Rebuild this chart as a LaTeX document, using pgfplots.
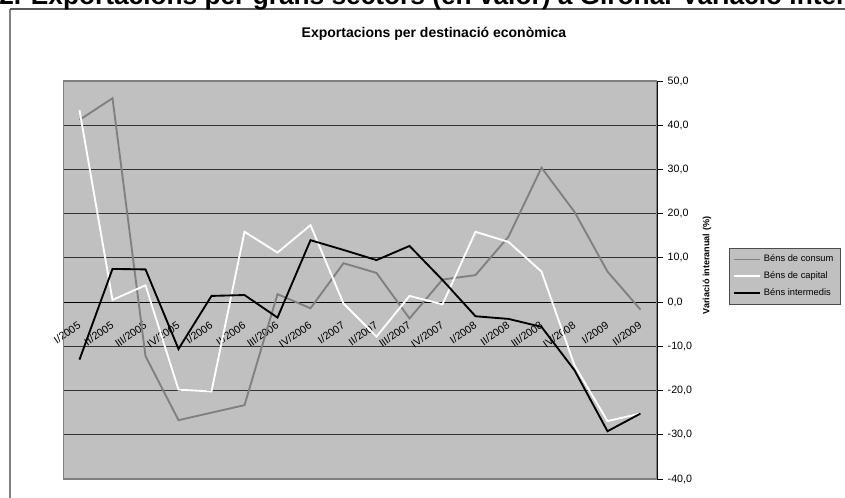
\documentclass[border=0pt]{standalone}
\usepackage{fontspec}
\setmainfont{Liberation Sans}
\usepackage{pgfplots}
\pgfplotsset{compat=1.18}
\definecolor{plotbg}{HTML}{C0C0C0}
\definecolor{midgray}{HTML}{808080}

\begin{document}
\begin{tikzpicture}
\begin{scope}[x=0.75pt,y=-0.75pt]
\path[use as bounding box] (0,0) rectangle (845,498);
\clip (0,0) rectangle (845,498);
% chart frame
\draw[midgray, line width=1.5pt] (10,9.5) -- (10,520);
\draw[black!65, line width=1.5pt] (10,9.5) -- (880,9.5);
% cut heading and chart title
\node[anchor=base west, inner sep=0pt, font=\bfseries\fontsize{19.7}{22}\selectfont]
  at (-1,5) {2. Exportacions per grans sectors (en valor) a Girona. Variació interanual};
\node[anchor=base, inner sep=0pt, font=\bfseries\fontsize{10.5}{12}\selectfont]
  at (434,38) {Exportacions per destinació econòmica};
% y axis title
\node[rotate=90, inner sep=0pt, font=\bfseries\fontsize{6.8}{7}\selectfont]
  at (707,265.5) {Variació interanual (\%)};

\begin{axis}[
    at={(47.25pt,-359.25pt)}, anchor=south west,
    width=445.5pt, height=298.5pt, scale only axis,
    xmin=0.5, xmax=18.5, ymin=-40, ymax=50,
    axis x line*=middle, axis y line*=right,
    axis line style={black, line width=0.9pt},
    axis background/.style={fill=plotbg},
    xtick={1,...,18},
    xticklabels={I/2005,II/2005,III/2005,IV/2005,I/2006,II/2006,III/2006,IV/2006,
      I/2007,II/2007,III/2007,IV/2007,I/2008,II/2008,III/2008,IV/2008,I/2009,II/2009},
    minor x tick num=1,
    xtick style={draw=none},
    minor x tick style={black, line width=0.7pt},
    ytick={-40,-30,...,50},
    ytick style={black, line width=0.7pt},
    tick align=outside,
    major tick length=4.5pt, minor tick length=2.5pt,
    ymajorgrids, grid style={black!80, line width=0.9pt},
    xticklabel style={font=\fontsize{8}{9}\selectfont, rotate=35, anchor=east, inner sep=0pt},
    xticklabel shift=12pt,
    yticklabel style={font=\fontsize{8}{9}\selectfont},
    /pgf/number format/.cd, fixed, fixed zerofill, precision=1, use comma, assume math mode=true,
    /pgfplots/.cd,
    no markers,
    legend style={at={(axis description cs:1.1212,0.5804)}, anchor=north west,
      fill=plotbg, draw=black!70, line width=0.6pt,
      font=\fontsize{7}{7.5}\selectfont, row sep=2pt, inner xsep=3pt, inner ysep=3pt},
    legend cell align=left,
    legend image code/.code={\draw[#1] (0pt,0pt) -- (19.5pt,0pt);},
]
\draw[midgray, line width=0.9pt] (rel axis cs:0,0) rectangle (rel axis cs:1,1);
\addplot[midgray, line width=1.4pt] coordinates {
  (1,41.2) (2,46.1) (3,-12.2) (4,-26.7) (5,-25.0) (6,-23.3) (7,1.8) (8,-1.4) (9,8.8)
  (10,6.6) (11,-3.7) (12,5.1) (13,6.1) (14,14.8) (15,30.4) (16,20.4) (17,6.9) (18,-1.7)};
\addlegendentry{Béns de consum}
\addplot[white, line width=1.4pt] coordinates {
  (1,43.4) (2,0.5) (3,3.8) (4,-19.8) (5,-20.2) (6,15.9) (7,11.2) (8,17.4) (9,-0.3)
  (10,-7.8) (11,1.4) (12,-0.5) (13,15.9) (14,13.6) (15,6.9) (16,-14.3) (17,-26.9) (18,-25.2)};
\addlegendentry{Béns de capital}
\addplot[black, line width=1.4pt] coordinates {
  (1,-13.0) (2,7.5) (3,7.4) (4,-10.6) (5,1.4) (6,1.6) (7,-3.5) (8,14.0) (9,11.8)
  (10,9.5) (11,12.7) (12,5.0) (13,-3.2) (14,-3.8) (15,-5.6) (16,-15.4) (17,-29.2) (18,-25.2)};
\addlegendentry{Béns intermedis}
\end{axis}
\end{scope}
\end{tikzpicture}
\end{document}
